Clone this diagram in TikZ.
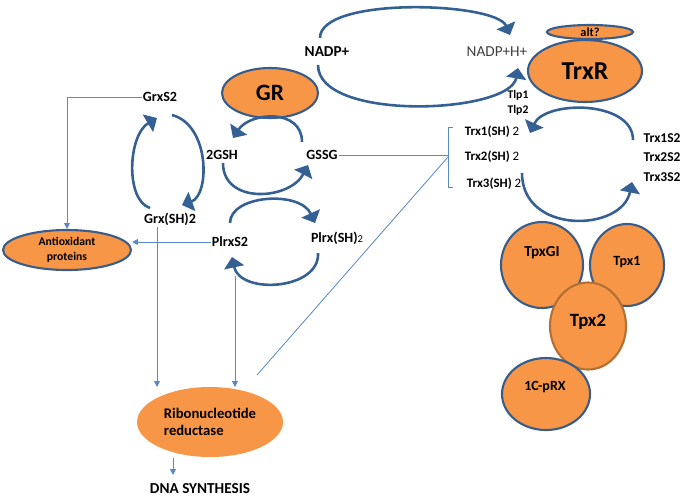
\documentclass[tikz,border=0pt]{standalone}
\usepackage{fontspec}
\setmainfont{Carlito}
\usetikzlibrary{arrows.meta,shapes.geometric,positioning}

\definecolor{orfill}{RGB}{247,150,70}
\definecolor{ringblue}{RGB}{56,93,138}
\definecolor{arcblue}{RGB}{52,96,148}
\definecolor{lineblue}{RGB}{88,138,198}
\definecolor{tpxbrown}{RGB}{180,112,52}
\definecolor{nadpgray}{RGB}{64,64,64}

\tikzset{
  enzyme/.style={ellipse, draw=ringblue, line width=1.8pt, fill=orfill, inner sep=0pt, font=\bfseries},
  metab/.style={font=\fontsize{12}{14}\selectfont\bfseries, inner sep=1pt},
  cycle/.style={draw=arcblue, line width=2.2pt, -{Triangle[length=9pt,width=17pt]}},
  link/.style={draw=lineblue, line width=0.7pt},
  linkarrow/.style={link, -{Triangle[length=5pt,width=5pt]}},
}

\begin{document}
\begin{tikzpicture}[x=0.03cm, y=-0.03cm]
    \useasboundingbox (0,0) rectangle (685,497);

    % NADP cycle
    \node[metab, font=\fontsize{13}{15}\selectfont\bfseries] (nadp) at (327,52) {NADP+};
    \node[font=\fontsize{13}{15}\selectfont, text=nadpgray, inner sep=1pt] (nadph) at (497,52) {NADP+H+};
    \coordinate (n1) at (320,38);
    \coordinate (n2) at (510,35);
    \coordinate (n3) at (318,65);
    \coordinate (n4) at (518,68);
    \draw[cycle] (n1) .. controls (320,-4) and (496,2) .. (n2);
    \draw[cycle] (n3) .. controls (318,122) and (510,114) .. (n4);

    % Reductases
    \node[enzyme, minimum width=3.42cm, minimum height=1.86cm, font=\fontsize{22}{24}\selectfont\bfseries] (trxr) at (585,71) {TrxR};
    \node[enzyme, minimum width=2.58cm, minimum height=0.42cm, font=\fontsize{10.5}{11}\selectfont\bfseries] (alt) at (590,32) {alt?};
    \node[enzyme, minimum width=2.88cm, minimum height=1.5cm, font=\fontsize{20}{22}\selectfont\bfseries] (gr) at (270,93) {GR};
    \node[metab, font=\fontsize{10}{12}\selectfont\bfseries] (tlp1) at (518,95) {Tlp1};
    \node[metab, font=\fontsize{10}{12}\selectfont\bfseries] (tlp2) at (518,110) {Tlp2};

    % Glutathione and glutaredoxin
    \node[metab] (grxs2) at (160,97) {GrxS2};
    \node[metab] (gsh) at (222,155) {2GSH};
    \node[metab] (gssg) at (322,155) {GSSG};
    \node[metab] (grxsh) at (170,219) {Grx(SH)2};
    \node[metab] (plrxs2) at (230,242) {PlrxS2};
    \node[metab] (plrxsh) at (337,238) {Plrx(SH){\mdseries\small 2}};

    \coordinate (g1) at (302,142);
    \coordinate (g2) at (233,138);
    \coordinate (g3) at (223,163);
    \coordinate (g4) at (308,165);
    \draw[cycle] (g1) .. controls (302,108) and (250,112) .. (g2);
    \draw[cycle] (g3) .. controls (223,205) and (290,200) .. (g4);

    \coordinate (x1) at (150,208);
    \coordinate (x2) at (157,118);
    \coordinate (x3) at (172,115);
    \coordinate (x4) at (182,205);
    \draw[cycle] (x1) .. controls (125,200) and (128,135) .. (x2);
    \draw[cycle] (x3) .. controls (210,125) and (210,195) .. (x4);

    \coordinate (p1) at (230,223);
    \coordinate (p2) at (315,223);
    \coordinate (p3) at (318,253);
    \coordinate (p4) at (232,257);
    \draw[cycle] (p1) .. controls (230,195) and (300,190) .. (p2);
    \draw[cycle] (p3) .. controls (320,290) and (240,295) .. (p4);

    % Thioredoxins
    \node[metab, font=\fontsize{11}{13}\selectfont\bfseries] (trx1) at (492,132) {Trx1(SH) {\mdseries 2}};
    \node[metab, font=\fontsize{11}{13}\selectfont\bfseries] (trx2) at (492,157) {Trx2(SH) {\mdseries 2}};
    \node[metab, font=\fontsize{11}{13}\selectfont\bfseries] (trx3) at (494,184) {Trx3(SH) {\mdseries 2}};
    \node[metab, font=\fontsize{11.5}{13}\selectfont\bfseries] (trx1s2) at (662,138) {Trx1S2};
    \node[metab, font=\fontsize{11.5}{13}\selectfont\bfseries] (trx2s2) at (662,157) {Trx2S2};
    \node[metab, font=\fontsize{11.5}{13}\selectfont\bfseries] (trx3s2) at (662,177) {Trx3S2};

    \coordinate (t1) at (633,140);
    \coordinate (t2) at (530,133);
    \coordinate (t3) at (522,173);
    \coordinate (t4) at (632,182);
    \draw[cycle] (t1) .. controls (633,100) and (545,100) .. (t2);
    \draw[cycle] (t3) .. controls (522,235) and (622,232) .. (t4);

    % Peroxidases
    \node[enzyme, minimum width=2.46cm, minimum height=2.58cm] (tpxgi) at (542,265) {};
    \node[enzyme, minimum width=2.22cm, minimum height=2.46cm] (tpx1) at (627,265) {};
    \node[enzyme, draw=tpxbrown, minimum width=2.28cm, minimum height=2.61cm] (tpx2) at (588,326) {};
    \node[enzyme, minimum width=2.64cm, minimum height=2.16cm] (prx) at (546,394) {};
    \node[metab, font=\fontsize{13}{15}\selectfont\bfseries] (tpxgi-l) at (542,253) {TpxGI};
    \node[metab, font=\fontsize{12}{14}\selectfont\bfseries] (tpx1-l) at (627,262) {Tpx1};
    \node[metab, font=\fontsize{16}{18}\selectfont\bfseries] (tpx2-l) at (588,322) {Tpx2};
    \node[metab, font=\fontsize{12}{14}\selectfont\bfseries] (prx-l) at (545,387) {1C-pRX};

    % Targets
    \node[enzyme, minimum width=3.84cm, minimum height=1.2cm, align=center, font=\fontsize{10}{13}\selectfont\bfseries] (antiox) at (67,250) {Antioxidant\\proteins};
    \node[enzyme, draw=none, minimum width=4.38cm, minimum height=2.1cm, align=left, font=\fontsize{12.5}{15}\selectfont\bfseries] (ribo) at (210,422) {Ribonucleotide\\reductase};
    \node[metab, anchor=base, font=\fontsize{13}{15}\selectfont\bfseries] (dna) at (200,493) {DNA SYNTHESIS};

    % Links
    \draw[linkarrow] (grxs2.west) -| (antiox.north);
    \draw[linkarrow] (plrxs2.west) -- (plrxs2.west -| antiox.east);
    \coordinate (r1) at (157,387);
    \draw[linkarrow] (grxsh.south -| r1) -- (r1);
    \coordinate (r2) at (235,387);
    \coordinate (pd) at (235,276);
    \draw[linkarrow] (pd) -- (r2);
    \coordinate (bt) at (448,127);
    \coordinate (bm) at (448,157);
    \coordinate (bb) at (448,187);
    \draw[link] (bt) ++(5,0) -- (bt) -- (bb) -- ++(5,0);
    \draw[link] (gssg.east) -- (gssg.east -| bm);
    \coordinate (r3) at (257,375);
    \draw[link] (bm) -- (r3);
    \coordinate (d1) at (173,475);
    \draw[linkarrow] (ribo.south -| d1) -- (d1);
\end{tikzpicture}
\end{document}
